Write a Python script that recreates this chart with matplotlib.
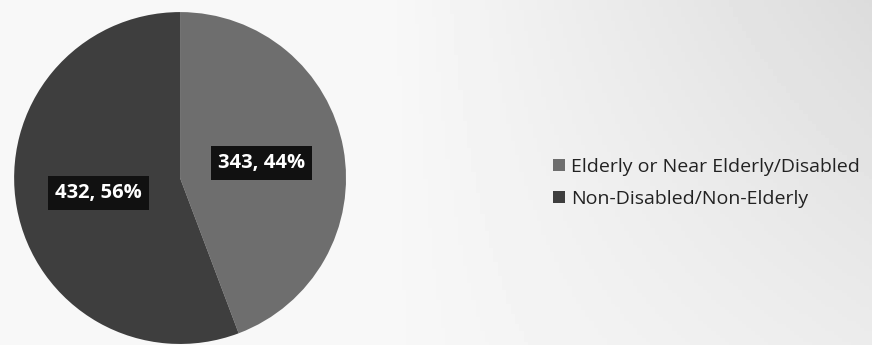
import matplotlib
matplotlib.use("Agg")
import matplotlib.pyplot as plt
import numpy as np

categories = ["Elderly or Near Elderly/Disabled", "Non-Disabled/Non-Elderly"]
values = [343, 432]
colors = ["#6e6e6e", "#3e3e3e"]

total = sum(values)

fig = plt.figure(figsize=(8.72, 3.45), dpi=100)
fig.patch.set_facecolor("#f3f3f3")

# subtle background shading (scanned look)
bg = fig.add_axes([0, 0, 1, 1], zorder=-1)
gx, gy = np.meshgrid(np.linspace(0, 1, 200), np.linspace(0, 1, 100))
shade = 0.97 - 0.14 * np.clip(gx - 0.45, 0, 1) * (0.6 + 0.8 * (1 - gy))
bg.imshow(shade, cmap="gray", vmin=0, vmax=1, aspect="auto", extent=[0, 1, 0, 1])
bg.axis("off")

ax = fig.add_axes([0.016, 0.003, 0.381, 0.962])

def fmt(pct):
    v = int(round(pct * total / 100.0))
    return f"{v}, {pct:.0f}%"

wedges, texts, autotexts = ax.pie(
    values, colors=colors, startangle=90, counterclock=False,
    autopct=fmt, pctdistance=0.5,
    wedgeprops=dict(linewidth=0),
)
for t in autotexts:
    t.set_color("white")
    t.set_fontsize(14.5)
    t.set_fontweight("bold")
    t.set_family("Open Sans")
    t.set_bbox(dict(boxstyle="square,pad=0.35", facecolor="#111111", edgecolor="none"))
ax.set_xlim(-1, 1)
ax.set_ylim(-1, 1)
ax.set_aspect("equal")

leg = fig.legend(
    wedges, categories, loc="center left", bbox_to_anchor=(0.614, 0.47),
    frameon=False, handlelength=0.6, handleheight=0.6, handletextpad=0.35,
    labelspacing=0.75, prop={"family": "Open Sans", "size": 14},
)
for t in leg.get_texts():
    t.set_color("#222222")

fig.savefig("out.png", dpi=100, facecolor=fig.get_facecolor())
